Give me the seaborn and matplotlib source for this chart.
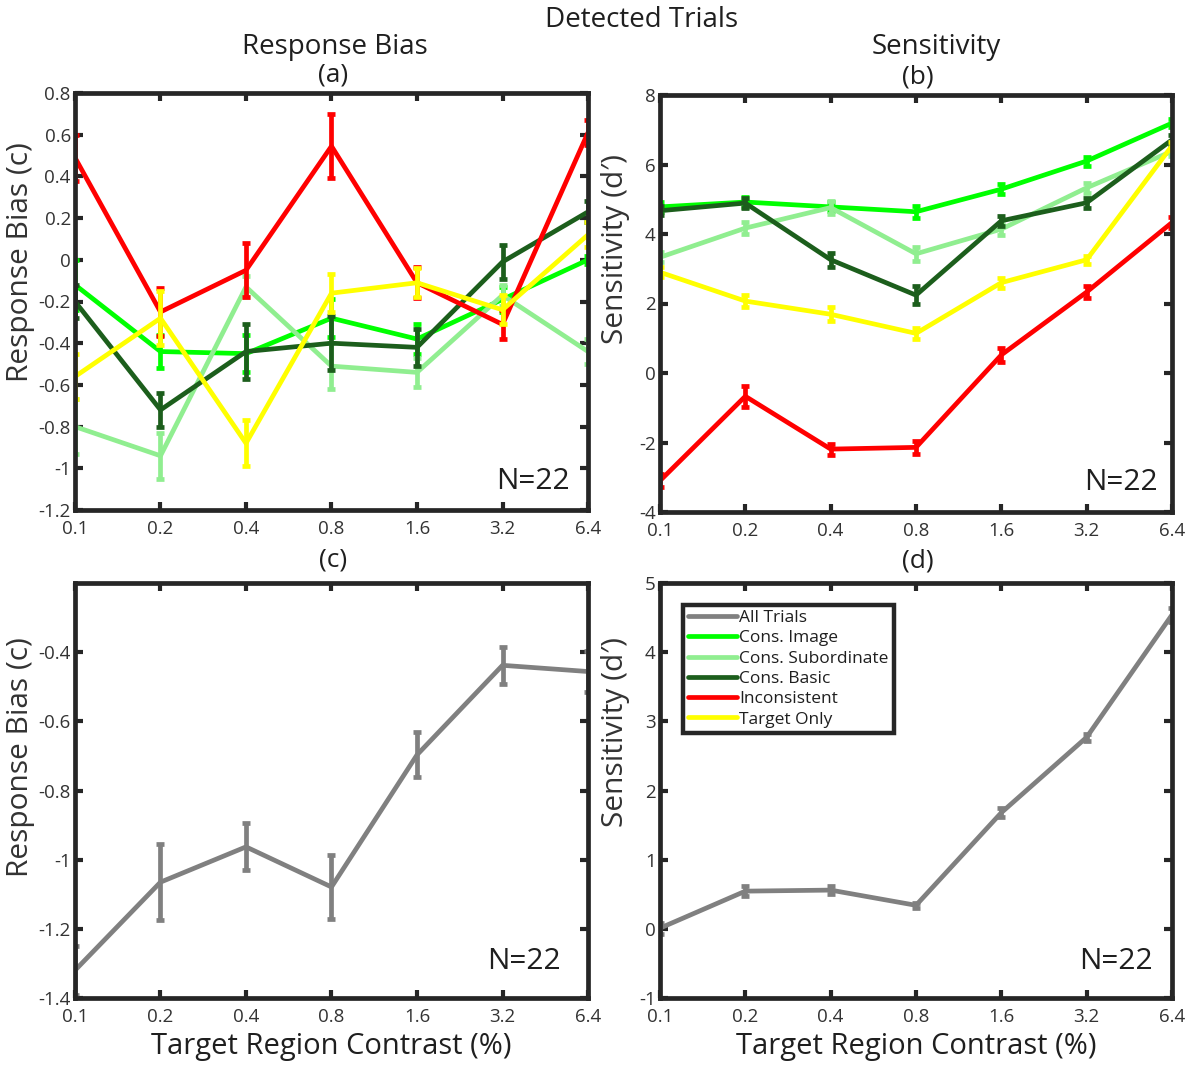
import numpy as np
import pandas as pd
import matplotlib
matplotlib.use("Agg")
import matplotlib.pyplot as plt
from matplotlib.lines import Line2D
import seaborn as sns

# Contrast levels (%) on a log2 axis
contrast = [0.1, 0.2, 0.4, 0.8, 1.6, 3.2, 6.4]
contrast_labels = ["0.1", "0.2", "0.4", "0.8", "1.6", "3.2", "6.4"]

conditions = ["Cons. Image", "Cons. Subordinate", "Cons. Basic", "Inconsistent", "Target Only"]
condition_colors = ["#00FF00", "#90EE90", "#1C5E1C", "#FF0000", "#FFFF00"]
all_color = "#808080"

# Response bias (c) per condition, with SEM
bias_image = [-0.12, -0.44, -0.45, -0.28, -0.38, -0.19, 0.00]
bias_image_err = [0.12, 0.08, 0.09, 0.09, 0.07, 0.06, 0.02]
bias_subord = [-0.80, -0.94, -0.13, -0.51, -0.54, -0.17, -0.44]
bias_subord_err = [0.13, 0.11, 0.05, 0.11, 0.07, 0.05, 0.06]
bias_basic = [-0.20, -0.72, -0.44, -0.40, -0.42, -0.01, 0.23]
bias_basic_err = [0.08, 0.08, 0.13, 0.13, 0.09, 0.08, 0.05]
bias_incons = [0.49, -0.25, -0.05, 0.545, -0.11, -0.31, 0.61]
bias_incons_err = [0.11, 0.115, 0.13, 0.155, 0.075, 0.07, 0.06]
bias_target = [-0.56, -0.28, -0.88, -0.16, -0.11, -0.24, 0.12]
bias_target_err = [0.11, 0.13, 0.11, 0.09, 0.07, 0.07, 0.06]

# Sensitivity (d') per condition, with SEM
sens_image = [4.78, 4.92, 4.78, 4.64, 5.29, 6.10, 7.19]
sens_image_err = [0.15, 0.14, 0.13, 0.17, 0.14, 0.13, 0.12]
sens_subord = [3.33, 4.17, 4.76, 3.43, 4.14, 5.33, 6.38]
sens_subord_err = [0.15, 0.17, 0.18, 0.2, 0.16, 0.14, 0.14]
sens_basic = [4.67, 4.89, 3.26, 2.24, 4.38, 4.90, 6.71]
sens_basic_err = [0.13, 0.15, 0.2, 0.25, 0.14, 0.14, 0.14]
sens_incons = [-3.10, -0.67, -2.19, -2.14, 0.52, 2.33, 4.33]
sens_incons_err = [0.18, 0.3, 0.16, 0.18, 0.2, 0.16, 0.15]
sens_target = [2.90, 2.07, 1.69, 1.14, 2.60, 3.26, 6.54]
sens_target_err = [0.15, 0.17, 0.2, 0.15, 0.14, 0.12, 0.12]

# All trials pooled
bias_all = [-1.32, -1.065, -0.963, -1.079, -0.697, -0.438, -0.456]
bias_all_err = [0.07, 0.11, 0.068, 0.092, 0.065, 0.054, 0.058]
sens_all = [0.01, 0.545, 0.56, 0.34, 1.68, 2.77, 4.54]
sens_all_err = [0.08, 0.07, 0.06, 0.04, 0.06, 0.05, 0.1]

bias_by_cond = [bias_image, bias_subord, bias_basic, bias_incons, bias_target]
bias_err_by_cond = [bias_image_err, bias_subord_err, bias_basic_err, bias_incons_err, bias_target_err]
sens_by_cond = [sens_image, sens_subord, sens_basic, sens_incons, sens_target]
sens_err_by_cond = [sens_image_err, sens_subord_err, sens_basic_err, sens_incons_err, sens_target_err]

sns.set_style("white")
plt.rcParams["font.family"] = ["Open Sans", "DejaVu Sans"]

FRAME = "#262626"
TEXT = "#1f1f1f"
LW = 3.4

fig = plt.figure(figsize=(12, 10.66), dpi=100)
W, H = 1200, 1066


def axes_px(left, top, right, bottom):
    return fig.add_axes([left / W, 1 - bottom / H, (right - left) / W, (bottom - top) / H])


ax_a = axes_px(75, 93, 588, 510)
ax_b = axes_px(660, 95, 1172, 512)
ax_c = axes_px(75, 583, 588, 998)
ax_d = axes_px(660, 583, 1172, 998)


def draw_series(ax, vals, errs, color):
    df = pd.DataFrame({"contrast": contrast, "value": vals})
    sns.lineplot(data=df, x="contrast", y="value", color=color, lw=LW, ax=ax,
                 legend=False)
    ax.errorbar(contrast, vals, yerr=errs, fmt="none", ecolor=color,
                elinewidth=LW, capsize=3, capthick=LW)


def fmt_tick(v):
    v = round(float(v), 1) + 0.0
    if abs(v) < 1e-9:
        v = 0.0
    return f"{v:g}"


def style_axes(ax, yticks, ylim):
    ax.set_xscale("log", base=2)
    ax.set_xlim(0.1, 6.4)
    ax.set_xticks(contrast)
    ax.set_xticklabels(contrast_labels)
    ax.xaxis.set_minor_locator(matplotlib.ticker.NullLocator())
    ax.set_ylim(*ylim)
    ax.set_yticks(yticks)
    ax.set_yticklabels([fmt_tick(v) for v in yticks])
    ax.tick_params(axis="both", which="major", direction="in", length=6, width=3,
                   color=FRAME, labelsize=13.5, labelcolor="#333333",
                   top=True, right=True, bottom=True, left=True)
    ax.tick_params(axis="x", pad=7)
    ax.tick_params(axis="y", pad=3)
    for sp in ax.spines.values():
        sp.set_visible(True)
        sp.set_color(FRAME)
        sp.set_linewidth(3.4)
        sp.set_zorder(5)
    ax.set_xlabel("")
    ax.set_ylabel("")


# (a) Response bias by condition
for vals, errs, col in zip(bias_by_cond, bias_err_by_cond, condition_colors):
    draw_series(ax_a, vals, errs, col)
style_axes(ax_a, np.round(np.arange(-1.2, 0.81, 0.2), 1), (-1.2, 0.8))

# (b) Sensitivity by condition
for vals, errs, col in zip(sens_by_cond, sens_err_by_cond, condition_colors):
    draw_series(ax_b, vals, errs, col)
style_axes(ax_b, np.arange(-4, 9, 2), (-4, 8))

# (c) Response bias, all trials
draw_series(ax_c, bias_all, bias_all_err, all_color)
style_axes(ax_c, np.round(np.arange(-1.4, -0.39, 0.2), 1), (-1.4, -0.2))

# (d) Sensitivity, all trials
draw_series(ax_d, sens_all, sens_all_err, all_color)
style_axes(ax_d, np.arange(-1, 6, 1), (-1, 5))

# Axis labels
label_kw = dict(fontsize=21.5, color="#333333")
for ax, text, x, y in [(ax_a, "Response Bias (c)", -0.106, 0.595),
                       (ax_b, "Sensitivity (d\u2032)", -0.086, 0.63),
                       (ax_c, "Response Bias (c)", -0.106, 0.58),
                       (ax_d, "Sensitivity (d\u2032)", -0.086, 0.64)]:
    ax.set_ylabel(text, va="center", ha="center", **label_kw)
    ax.yaxis.set_label_coords(x, y)
for ax in (ax_c, ax_d):
    ax.set_xlabel("Target Region Contrast (%)", va="center", fontsize=21, color=TEXT)
    ax.xaxis.set_label_coords(0.5, -0.118)

# Sample size annotations
for ax, x, y in [(ax_a, 0.893, 0.068), (ax_b, 0.9, 0.07),
                 (ax_c, 0.876, 0.087), (ax_d, 0.89, 0.087)]:
    ax.text(x, y, "N=22", transform=ax.transAxes, ha="center", va="center",
            fontsize=21.5, color=TEXT)

# Titles
fig.text(642 / W, 1 - 20 / H, "Detected Trials", ha="center", va="center", fontsize=20, color=TEXT)
fig.text(335 / W, 1 - 47 / H, "Response Bias", ha="center", va="center", fontsize=20, color=TEXT)
fig.text(936 / W, 1 - 47 / H, "Sensitivity", ha="center", va="center", fontsize=20, color=TEXT)
for x, y, t in [(333, 75, "(a)"), (918, 77, "(b)"), (333, 560, "(c)"), (918, 561, "(d)")]:
    fig.text(x / W, 1 - y / H, t, ha="center", va="center", fontsize=19, color=TEXT)

# Legend
handles = [Line2D([], [], color=all_color, lw=LW)] + \
          [Line2D([], [], color=c, lw=LW) for c in condition_colors]
labels = ["All Trials"] + conditions
leg = ax_d.legend(handles, labels, loc="upper left", bbox_to_anchor=(0.045, 0.948),
                  fontsize=12.5, frameon=True, fancybox=False, framealpha=1,
                  edgecolor=FRAME, handlelength=2.8, handletextpad=0.15,
                  labelspacing=0.24, borderpad=0.3, borderaxespad=0)
leg.get_frame().set_linewidth(3.2)
leg.set_zorder(6)
for t in leg.get_texts():
    t.set_color(TEXT)

fig.savefig("out.png", dpi=100, facecolor="white")
